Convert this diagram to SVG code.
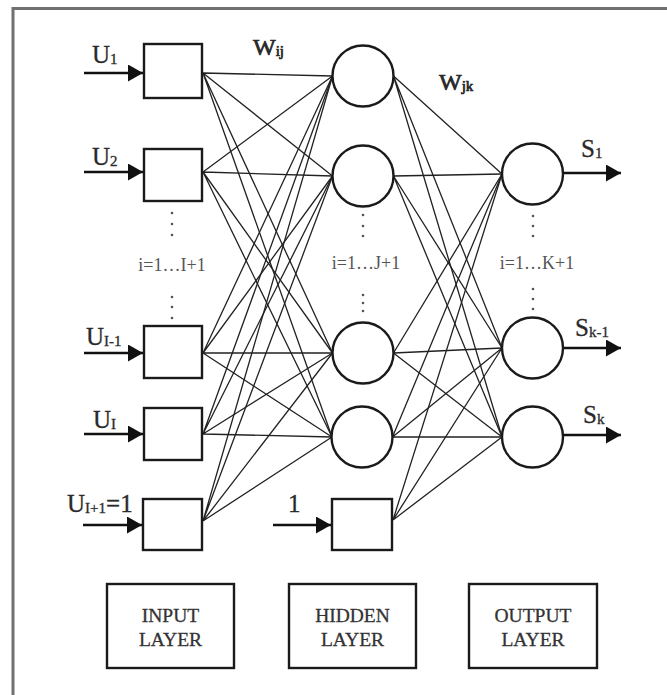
<svg xmlns="http://www.w3.org/2000/svg" width="667" height="695" viewBox="0 0 667 695">
  <defs>
    <style>
      .frame { stroke: #707070; stroke-width: 3; fill: none; }
      .box { fill: #ffffff; stroke: #1a1a1a; stroke-width: 2.4; }
      .neuron { fill: #ffffff; stroke: #1a1a1a; stroke-width: 2.4; }
      .edge { stroke: #222; stroke-width: 1.3; fill: none; }
      .arrow { stroke: #111; stroke-width: 2.6; fill: none; marker-end: url(#head); }
      .lbl { font-family: "Liberation Serif", "Times New Roman", serif; fill: #2a2a2a; }
      .big { font-size: 25px; stroke: #2a2a2a; stroke-width: 0.3; }
      .sub { font-size: 15px; }
      .w { font-size: 24px; stroke: #222; stroke-width: 0.7; }
      .idx { font-size: 18px; fill: #555; }
      .layer { font-size: 19.5px; fill: #333; stroke: #333; stroke-width: 0.3; text-anchor: middle; }
      .dot { fill: #555; }
    </style>
    <marker id="head" markerUnits="userSpaceOnUse" markerWidth="16" markerHeight="18" refX="15" refY="8.5" orient="auto">
      <path d="M0,0 L15,8.5 L0,17 Z" fill="#111"/>
    </marker>
  </defs>

  <rect width="667" height="695" fill="#ffffff"/>

  <!-- outer frame: top and left rules -->
  <path class="frame" d="M13,695 L13,8.5 L667,8.5"/>

  <!-- connectors: input -> hidden, hidden -> output -->
  <g id="connectors">
    <!-- from input boxes (x=203) to hidden neurons (x=332.5) -->
    <path class="edge" d="M203,73 L332.5,76 M203,73 L332.5,176 M203,73 L332.5,353 M203,73 L332,437"/>
    <path class="edge" d="M203,172 L332.5,76 M203,172 L332.5,176 M203,172 L332.5,353 M203,172 L332,437"/>
    <path class="edge" d="M203,353 L332.5,76 M203,353 L332.5,176 M203,353 L332.5,353 M203,353 L332,437"/>
    <path class="edge" d="M203,434 L332.5,76 M203,434 L332.5,176 M203,434 L332.5,353 M203,434 L332,437"/>
    <path class="edge" d="M203,521 L332.5,76 M203,521 L332.5,176 M203,521 L332.5,353 M203,521 L332,437"/>
    <!-- from hidden neurons (x=393.5) to output neurons (x=502) -->
    <path class="edge" d="M393.5,76 L502,174 M393.5,76 L502,348 M393.5,76 L502,437"/>
    <path class="edge" d="M393.5,176 L502,174 M393.5,176 L502,348 M393.5,176 L502,437"/>
    <path class="edge" d="M393.5,353 L502,174 M393.5,353 L502,348 M393.5,353 L502,437"/>
    <path class="edge" d="M392.5,437 L502,174 M392.5,437 L502,348 M392.5,437 L502,437"/>
    <path class="edge" d="M393,520 L502,174 M393,520 L502,348 M393,520 L502,437"/>
    <!-- input arrows -->
    <path class="arrow" d="M84,73 L143,73"/>
    <path class="arrow" d="M84,172 L143,172"/>
    <path class="arrow" d="M84,353 L143,353"/>
    <path class="arrow" d="M84,434 L143,434"/>
    <path class="arrow" d="M83,525 L142,525"/>
    <path class="arrow" d="M273,525 L331,525"/>
    <!-- output arrows -->
    <path class="arrow" d="M563,173 L621,173"/>
    <path class="arrow" d="M563,348 L621,348"/>
    <path class="arrow" d="M563,435 L621,435"/>
  </g>

  <!-- input layer -->
  <g id="in1">
    <rect class="box" x="144" y="44" width="58" height="54"/>
    <text class="lbl big" x="92" y="63">U<tspan class="sub" dy="1">1</tspan></text>
  </g>
  <g id="in2">
    <rect class="box" x="144" y="149" width="58" height="52"/>
    <text class="lbl big" x="92" y="165">U<tspan class="sub" dy="1">2</tspan></text>
  </g>
  <g id="in3">
    <rect class="box" x="144" y="326" width="58" height="52"/>
    <text class="lbl big" x="86" y="345">U<tspan class="sub" dy="1">I-1</tspan></text>
  </g>
  <g id="in4">
    <rect class="box" x="144" y="408" width="58" height="52"/>
    <text class="lbl big" x="93" y="428">U<tspan class="sub" dy="1">I</tspan></text>
  </g>
  <g id="in5">
    <rect class="box" x="143" y="499" width="59" height="51"/>
    <text class="lbl big" x="67" y="512">U<tspan class="sub" dy="1">I+1</tspan><tspan dy="-1">=1</tspan></text>
  </g>

  <!-- hidden layer -->
  <g id="h1"><circle class="neuron" cx="363" cy="76" r="30.5"/></g>
  <g id="h2"><circle class="neuron" cx="363" cy="176" r="30.5"/></g>
  <g id="h3"><circle class="neuron" cx="363" cy="353" r="30.5"/></g>
  <g id="h4"><circle class="neuron" cx="362" cy="437" r="30.5"/></g>
  <g id="hbias">
    <rect class="box" x="332" y="499" width="60" height="51"/>
    <text class="lbl big" x="288" y="512">1</text>
  </g>

  <!-- output layer -->
  <g id="o1">
    <circle class="neuron" cx="532.5" cy="174" r="30.5"/>
    <text class="lbl big" x="581" y="157">S<tspan class="sub" dy="1">1</tspan></text>
  </g>
  <g id="o2">
    <circle class="neuron" cx="532.5" cy="348" r="30.5"/>
    <text class="lbl big" x="575" y="336">S<tspan class="sub" dy="1">k-1</tspan></text>
  </g>
  <g id="o3">
    <circle class="neuron" cx="532.5" cy="437" r="30.5"/>
    <text class="lbl big" x="583" y="423">S<tspan class="sub" dy="1">k</tspan></text>
  </g>

  <!-- weight labels -->
  <g id="weights">
    <text class="lbl w" x="253" y="55">W<tspan class="sub" dy="1">ij</tspan></text>
    <text class="lbl w" x="439" y="90">W<tspan class="sub" dy="1">jk</tspan></text>
  </g>

  <!-- index ranges with ellipsis dots -->
  <g id="ranges">
    <text class="lbl idx" x="172" y="271" text-anchor="middle">i=1…I+1</text>
    <text class="lbl idx" x="366" y="269" text-anchor="middle">i=1…J+1</text>
    <text class="lbl idx" x="537" y="269" text-anchor="middle">i=1…K+1</text>
    <circle class="dot" cx="172" cy="213" r="1.3"/>
    <circle class="dot" cx="172" cy="224" r="1.3"/>
    <circle class="dot" cx="172" cy="235" r="1.3"/>
    <circle class="dot" cx="172" cy="297" r="1.3"/>
    <circle class="dot" cx="172" cy="307" r="1.3"/>
    <circle class="dot" cx="172" cy="318" r="1.3"/>
    <circle class="dot" cx="363" cy="215" r="1.3"/>
    <circle class="dot" cx="363" cy="226" r="1.3"/>
    <circle class="dot" cx="363" cy="236" r="1.3"/>
    <circle class="dot" cx="363" cy="295" r="1.3"/>
    <circle class="dot" cx="363" cy="303" r="1.3"/>
    <circle class="dot" cx="363" cy="311" r="1.3"/>
    <circle class="dot" cx="533" cy="216" r="1.3"/>
    <circle class="dot" cx="533" cy="226" r="1.3"/>
    <circle class="dot" cx="533" cy="236" r="1.3"/>
    <circle class="dot" cx="533" cy="289" r="1.3"/>
    <circle class="dot" cx="533" cy="299" r="1.3"/>
    <circle class="dot" cx="533" cy="309" r="1.3"/>
  </g>

  <!-- layer captions -->
  <g id="input-layer">
    <rect class="box" x="107" y="584" width="127" height="84"/>
    <text class="lbl layer" x="170.5" y="622">INPUT</text>
    <text class="lbl layer" x="170.5" y="646">LAYER</text>
  </g>
  <g id="hidden-layer">
    <rect class="box" x="289" y="584" width="127" height="84"/>
    <text class="lbl layer" x="352.5" y="622">HIDDEN</text>
    <text class="lbl layer" x="352.5" y="646">LAYER</text>
  </g>
  <g id="output-layer">
    <rect class="box" x="469" y="584" width="128" height="84"/>
    <text class="lbl layer" x="533" y="622">OUTPUT</text>
    <text class="lbl layer" x="533" y="646">LAYER</text>
  </g>
</svg>
